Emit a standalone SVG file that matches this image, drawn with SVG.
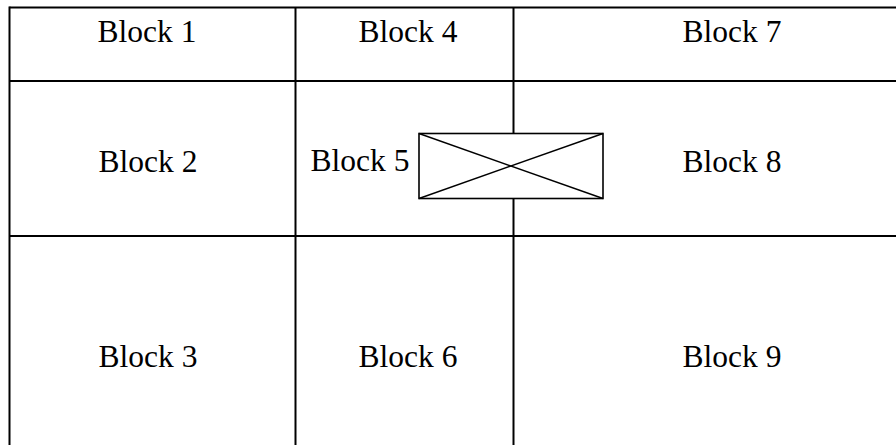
<svg xmlns="http://www.w3.org/2000/svg" width="896" height="445" viewBox="0 0 896 445">
<style>
.ln{stroke:#000;stroke-width:2;fill:none}
.bx{stroke:#000;stroke-width:1.6;fill:#fff}
.x{stroke:#000;stroke-width:1.4}
.t{font-family:"Liberation Serif","Times New Roman",serif;font-size:31.5px;fill:#000;text-anchor:middle}
</style>
<rect width="896" height="445" fill="#fff"/>
<g id="connectors">
<line class="ln" x1="9.5" y1="7.5" x2="896" y2="7.5"/>
<line class="ln" x1="9.5" y1="81" x2="896" y2="81"/>
<line class="ln" x1="9.5" y1="236" x2="896" y2="236"/>
<line class="ln" x1="9.5" y1="6.5" x2="9.5" y2="445"/>
<line class="ln" x1="295.5" y1="7.5" x2="295.5" y2="445"/>
<line class="ln" x1="513.5" y1="7.5" x2="513.5" y2="133.5"/>
<line class="ln" x1="513.5" y1="198.5" x2="513.5" y2="445"/>
</g>
<g id="block1"><text class="t" x="147" y="42">Block 1</text></g>
<g id="block2"><text class="t" x="148" y="172">Block 2</text></g>
<g id="block3"><text class="t" x="148" y="367">Block 3</text></g>
<g id="block4"><text class="t" x="408" y="42">Block 4</text></g>
<g id="block5"><text class="t" x="360" y="171">Block 5</text></g>
<g id="block6"><text class="t" x="408" y="367">Block 6</text></g>
<g id="block7"><text class="t" x="732" y="42">Block 7</text></g>
<g id="block8"><text class="t" x="732" y="172">Block 8</text></g>
<g id="block9"><text class="t" x="732" y="367">Block 9</text></g>
<g id="crossbox">
<rect class="bx" x="419" y="133.5" width="184" height="65"/>
<line class="x" x1="419" y1="133.5" x2="603" y2="198.5"/>
<line class="x" x1="419" y1="198.5" x2="603" y2="133.5"/>
</g>
</svg>
